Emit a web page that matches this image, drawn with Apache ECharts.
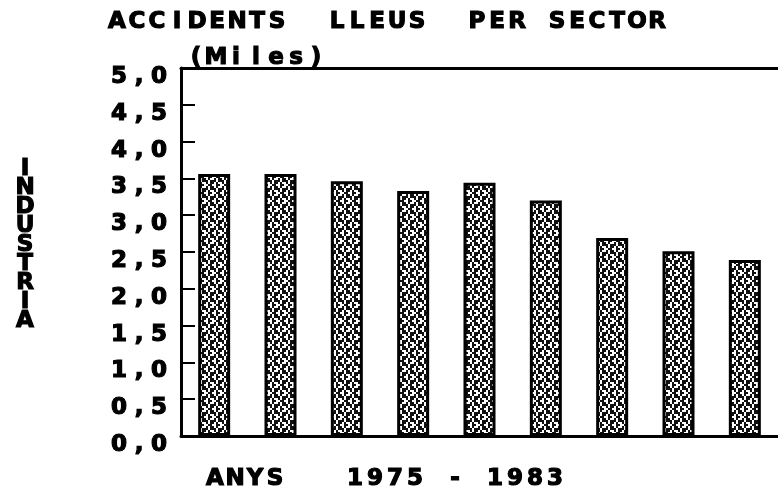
<!DOCTYPE html>
<html>
<head>
<meta charset="utf-8">
<script src="https://cdn.jsdelivr.net/npm/echarts/dist/echarts.min.js"></script>
<style>html,body{margin:0;padding:0;background:#fff;}#chart{width:778px;height:497px;}</style>
</head>
<body>
<div id="chart"></div>
<script>
// ---- data ----
const years = ['1975', '1976', '1977', '1978', '1979', '1980', '1981', '1982', '1983'];
const accidents = [3.56, 3.56, 3.46, 3.33, 3.44, 3.20, 2.69, 2.51, 2.39];
const titleText = 'ACCIDENTS  LLEUS  PER SECTOR';
const unitText = '(Miles)';
const xAxisText = 'ANYS   1975 - 1983';
const yAxisText = 'INDUSTRIA';

// ---- helpers ----
const FONT = 'DejaVu Sans';
function cells(str) {
  return str.split('').map(ch => '{c|' + ch + '}').join('');
}
// rich style for axis labels (ECharts naming)
const labelRich = {
  c: {
    width: 20, align: 'center', fontFamily: FONT, fontWeight: 'bold', fontSize: 23,
    color: '#000', lineHeight: 18, textBorderColor: '#000', textBorderWidth: 1.2
  }
};
// rich style for graphic texts (zrender naming)
const graphicRich = {
  c: {
    width: 20, align: 'center', fontFamily: FONT, fontWeight: 'bold', fontSize: 23,
    fill: '#000', lineHeight: 18, stroke: '#000', lineWidth: 1.2
  }
};
function makePattern() {
  const s = 2, n = 8;
  const c = document.createElement('canvas');
  c.width = n * s; c.height = n * s;
  const ctx = c.getContext('2d');
  ctx.fillStyle = '#fff'; ctx.fillRect(0, 0, n * s, n * s);
  ctx.fillStyle = '#111';
  for (let y = 0; y < n; y++) {
    for (let x = 0; x < n; x++) {
      const q = ((x >> 2) + (y >> 2)) % 2;
      const v = q === 0 ? (x + y) % 4 : ((x - y) % 4 + 4) % 4;
      if (v < 2 || (x % 4 === 1 && y % 4 === 2)) ctx.fillRect(x * s, y * s, s, s);
    }
  }
  return c;
}

const chart = echarts.init(document.getElementById('chart'), null, { renderer: 'canvas' });
chart.setOption({
  animation: false,
  backgroundColor: '#fff',
  grid: { left: 181, right: -4, top: 68, bottom: 61, containLabel: false },
  xAxis: [
    {
      type: 'category', data: years, position: 'bottom',
      axisLine: { show: true, lineStyle: { color: '#000', width: 3 } },
      axisTick: { show: false }, axisLabel: { show: false }, splitLine: { show: false }
    },
    {
      type: 'category', data: years, position: 'top',
      axisLine: { show: true, lineStyle: { color: '#000', width: 3 } },
      axisTick: { show: false }, axisLabel: { show: false }, splitLine: { show: false }
    }
  ],
  yAxis: {
    type: 'value', min: 0, max: 5, interval: 0.5,
    axisLine: { show: true, lineStyle: { color: '#000', width: 3 } },
    axisTick: { show: true, inside: true, length: 14, lineStyle: { color: '#000', width: 2 } },
    splitLine: { show: false },
    axisLabel: {
      margin: 12,
      verticalAlign: 'top',
      formatter: v => cells(v.toFixed(1).replace('.', ',')),
      rich: labelRich
    }
  },
  series: [{
    type: 'bar',
    xAxisIndex: 0,
    data: accidents,
    barWidth: 32,
    itemStyle: { color: { image: makePattern(), repeat: 'repeat' }, borderColor: '#000', borderWidth: 3 }
  }],
  graphic: [
    { type: 'text', x: 107, y: 22, style: { text: cells(titleText), rich: graphicRich, verticalAlign: 'middle', align: 'left' } },
    { type: 'text', x: 186, y: 58, style: { text: cells(unitText), rich: graphicRich, verticalAlign: 'middle', align: 'left' } },
    { type: 'text', x: 205, y: 479, style: { text: cells(xAxisText), rich: graphicRich, verticalAlign: 'middle', align: 'left' } },
    { type: 'text', x: 25, y: 160, style: { text: yAxisText.split('').join('\n'), fontFamily: FONT, fontWeight: 'bold', fontSize: 23, lineHeight: 19, fill: '#000', align: 'center', verticalAlign: 'top', stroke: '#000', lineWidth: 1.2 } }
  ]
});
</script>
</body>
</html>
